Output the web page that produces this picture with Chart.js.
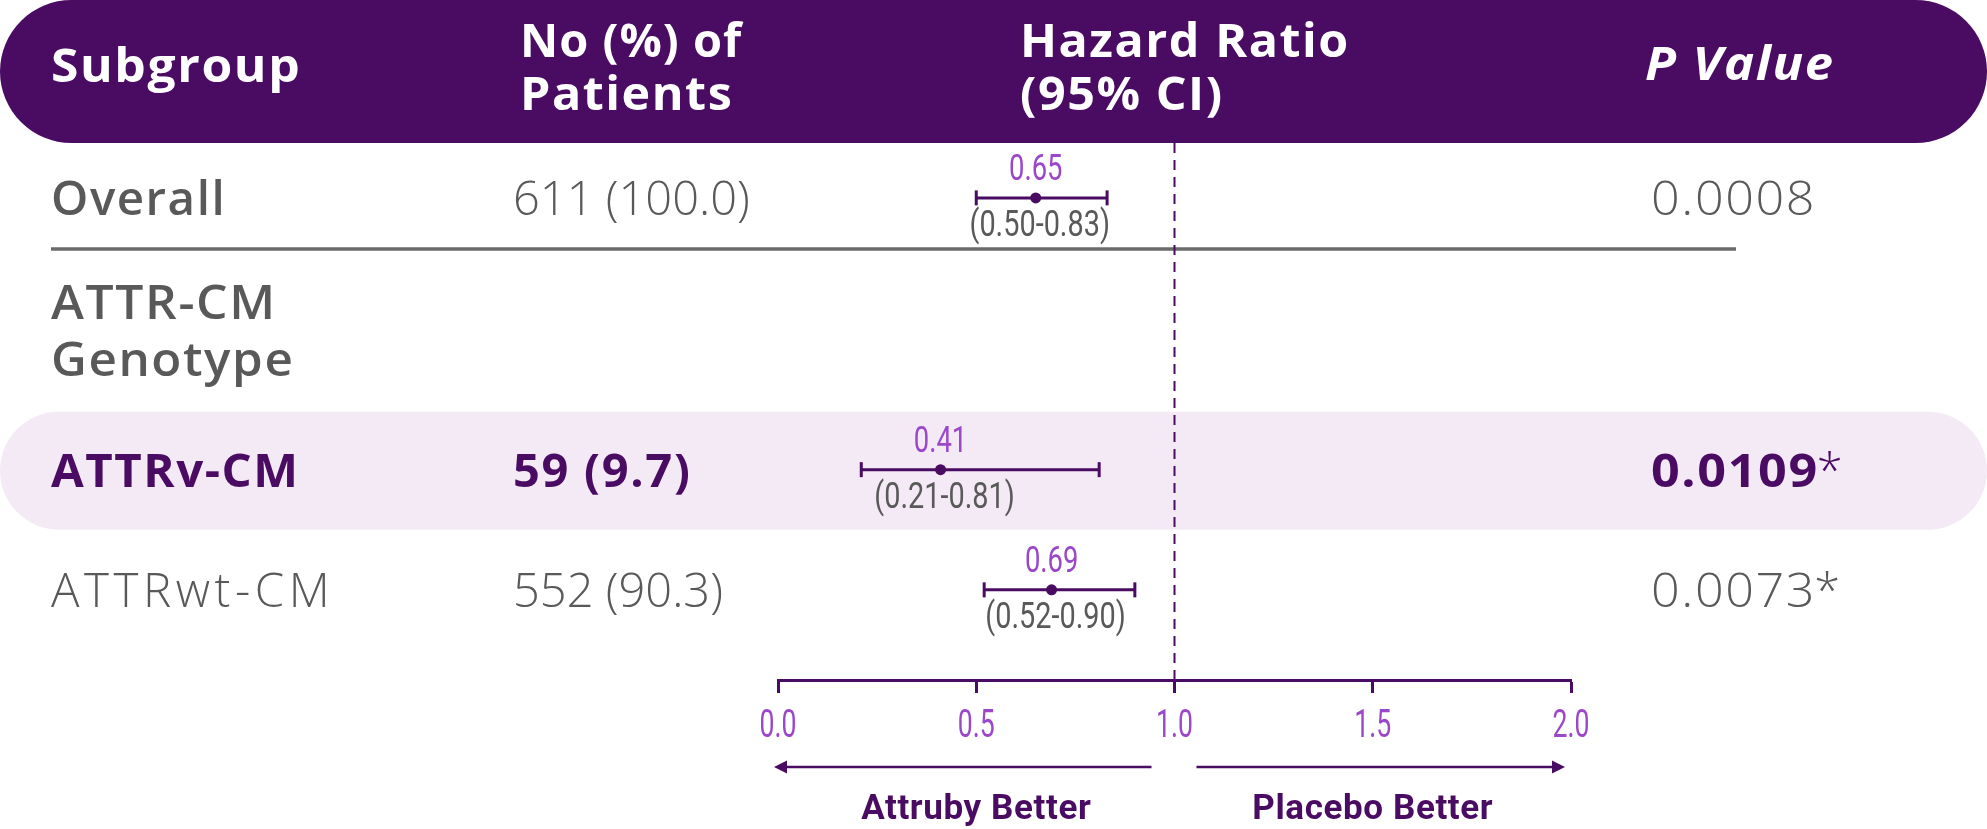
<!DOCTYPE html>
<html>
<head>
<meta charset="utf-8">
<title>ATTR-CM subgroups - hazard ratio forest plot</title>
<script src="https://cdn.jsdelivr.net/npm/chart.js@4.4.1/dist/chart.umd.min.js"></script>
<style>
  html, body { margin: 0; padding: 0; background: #fff; }
  #wrap { width: 1987px; height: 829px; }
</style>
</head>
<body>
<div id="wrap"><canvas id="forest"></canvas></div>
<script>
// values
const subgroups = ['Overall', 'ATTRv-CM', 'ATTRwt-CM'];
const patients = ['611 (100.0)', '59 (9.7)', '552 (90.3)'];
const hazardRatio = [0.65, 0.41, 0.69];
const ciLow = [0.50, 0.21, 0.52];
const ciHigh = [0.83, 0.81, 0.90];
const pValues = ['0.0008', '0.0109', '0.0073'];
const pFlags = ['', '*', '*'];
const groupTitle = ['ATTR-CM', 'Genotype'];
const xTicks = [0, 0.5, 1, 1.5, 2];
const xTickLabels = ['0.0', '0.5', '1.0', '1.5', '2.0'];
const sideLabels = ['Attruby Better', 'Placebo Better'];

// layout: row slot on the hidden y scale, and how each row is styled
const rowSlot = [0, 2.08, 3];
const groupSlot = 1;
const rowKind = ['summary', 'highlight', 'plain'];

const purple = '#4a0b62';
const violet = '#9a48c9';
const grey = '#595959';
const bandColor = '#f4eaf6';
const TABLE = '"Open Sans", "Noto Sans", sans-serif';
const NARROW = 'Roboto, "Noto Sans", sans-serif';

function txt(ctx, s, x, y, font, color, opt) {
  opt = opt || {};
  ctx.save();
  ctx.font = font;
  ctx.fillStyle = color;
  ctx.textAlign = opt.align || 'left';
  ctx.textBaseline = 'alphabetic';
  ctx.letterSpacing = opt.ls || '0px';
  ctx.translate(x, y);
  if (opt.sx) ctx.scale(opt.sx, 1);
  ctx.fillText(s, 0, 0);
  const w = ctx.measureText(s).width * (opt.sx || 1);
  ctx.restore();
  return w;
}

function arrow(ctx, x0, x1, y) {
  // shaft from x0 to x1, head at x1
  const dir = Math.sign(x1 - x0);
  ctx.save();
  ctx.strokeStyle = purple;
  ctx.fillStyle = purple;
  ctx.lineWidth = 2.5;
  ctx.beginPath();
  ctx.moveTo(x0, y);
  ctx.lineTo(x1 - dir * 8, y);
  ctx.stroke();
  ctx.beginPath();
  ctx.moveTo(x1, y);
  ctx.lineTo(x1 - dir * 13, y - 6.5);
  ctx.lineTo(x1 - dir * 13, y + 6.5);
  ctx.closePath();
  ctx.fill();
  ctx.restore();
}

const tablePlugin = {
  id: 'forestTable',
  beforeDraw(chart) {
    const ctx = chart.ctx;
    const W = chart.width;
    const ys = chart.scales.y;
    ctx.save();
    ctx.fillStyle = '#fff';
    ctx.fillRect(0, 0, W, chart.height);
    // header band
    ctx.fillStyle = purple;
    ctx.beginPath();
    ctx.roundRect(0, 0, W, chart.chartArea.top, chart.chartArea.top / 2);
    ctx.fill();
    // highlighted row band
    rowKind.forEach((k, i) => {
      if (k !== 'highlight') return;
      const y = ys.getPixelForValue(rowSlot[i]);
      ctx.fillStyle = bandColor;
      ctx.beginPath();
      ctx.roundRect(0, y - 58, W, 118, 59);
      ctx.fill();
    });
    // rule under the overall row
    const yo = ys.getPixelForValue(rowSlot[0]) + 51;
    ctx.strokeStyle = '#6b6b6b';
    ctx.lineWidth = 3.5;
    ctx.beginPath();
    ctx.moveTo(51, yo);
    ctx.lineTo(1736, yo);
    ctx.stroke();
    ctx.restore();
  },
  beforeDatasetsDraw(chart) {
    const ctx = chart.ctx;
    const x = chart.scales.x.getPixelForValue(1);
    ctx.save();
    ctx.strokeStyle = purple;
    ctx.lineWidth = 2;
    ctx.setLineDash([10, 7]);
    ctx.beginPath();
    ctx.moveTo(x, chart.chartArea.top);
    ctx.lineTo(x, chart.chartArea.bottom);
    ctx.stroke();
    ctx.restore();
  },
  afterDraw(chart) {
    const ctx = chart.ctx;
    const xs = chart.scales.x;
    const ys = chart.scales.y;

    // header
    const hf = '700 47px ' + TABLE;
    const ho = {ls: '1.5px', sx: 1.03};
    txt(ctx, 'Subgroup', 51, 82, hf, '#fff', {ls: '1.5px', sx: 1.06});
    txt(ctx, 'No (%) of', 520, 57, hf, '#fff', {ls: '1px', sx: 1.0});
    txt(ctx, 'Patients', 520, 110, hf, '#fff', ho);
    txt(ctx, 'Hazard Ratio', 1020, 57, hf, '#fff', ho);
    txt(ctx, '(95% CI)', 1020, 110, hf, '#fff', ho);
    txt(ctx, 'P Value', 1645, 80, 'italic 700 47px ' + TABLE, '#fff', {ls: '1.5px', sx: 1.08});

    // group title
    const yg = ys.getPixelForValue(groupSlot);
    txt(ctx, groupTitle[0], 51, yg - 10, '600 47px ' + TABLE, grey, {ls: '1.5px', sx: 1.06});
    txt(ctx, groupTitle[1], 51, yg + 47, '600 47px ' + TABLE, grey, {ls: '1.5px', sx: 1.05});

    // subgroup rows
    subgroups.forEach((name, i) => {
      const y = ys.getPixelForValue(rowSlot[i]);
      const kind = rowKind[i];
      const base = y + 17;
      let labFont, numFont, col, labLs;
      if (kind === 'summary') { labFont = '600'; numFont = '300'; col = grey; labLs = '1.5px'; }
      else if (kind === 'highlight') { labFont = '700'; numFont = '700'; col = purple; labLs = '1.5px'; }
      else { labFont = '300'; numFont = '300'; col = grey; labLs = '4.5px'; }
      txt(ctx, name, 51, base, labFont + ' 47px ' + TABLE, col, {ls: labLs, sx: 1.01});
      txt(ctx, patients[i], 513, base, numFont + ' 47px ' + TABLE, col, {ls: numFont === '700' ? '1.7px' : '0px'});
      const w = txt(ctx, pValues[i], 1651, base, numFont + ' 47px ' + TABLE, col, {ls: '1.5px', sx: 1.07});
      if (pFlags[i]) txt(ctx, pFlags[i], 1649 + w, base, '300 47px ' + TABLE, col);

      // hazard ratio and CI labels
      const xp = xs.getPixelForValue(hazardRatio[i]);
      txt(ctx, hazardRatio[i].toFixed(2), xp, y - 18, '400 37px ' + NARROW, violet, {align: 'center', sx: 0.74});
      txt(ctx, '(' + ciLow[i].toFixed(2) + '-' + ciHigh[i].toFixed(2) + ')', xp + 4, y + 38,
        '400 37px ' + NARROW, grey, {align: 'center', sx: 0.78});
    });

    // axis tick labels from the scale ticks
    xs.ticks.forEach((t, i) => {
      txt(ctx, xTickLabels[i], xs.getPixelForValue(t.value), xs.top + 57, '400 38px ' + NARROW, violet,
        {align: 'center', sx: 0.70});
    });

    // direction arrows and captions
    const p0 = xs.getPixelForValue(0), p1 = xs.getPixelForValue(1), p2 = xs.getPixelForValue(2);
    const ya = xs.top + 87;
    arrow(ctx, p1 - 23, p0 - 4, ya);
    arrow(ctx, p1 + 22, p2 - 6, ya);
    txt(ctx, sideLabels[0], (p0 + p1) / 2, xs.top + 139, '700 35px ' + NARROW, purple, {align: 'center', ls: '0.6px'});
    txt(ctx, sideLabels[1], (p1 + p2) / 2, xs.top + 139, '700 35px ' + NARROW, purple, {align: 'center', ls: '0.6px'});
  }
};

const datasets = subgroups.map((name, i) => ({
  label: name + ' 95% CI',
  data: [{x: ciLow[i], y: rowSlot[i]}, {x: ciHigh[i], y: rowSlot[i]}],
  showLine: true,
  borderColor: purple,
  borderWidth: 3,
  pointStyle: 'line',
  rotation: 90,
  pointRadius: 7.5,
  pointBorderWidth: 3,
  pointBorderColor: purple,
  pointBackgroundColor: purple
}));
datasets.push({
  label: 'Hazard ratio',
  data: hazardRatio.map((v, i) => ({x: v, y: rowSlot[i]})),
  pointStyle: 'circle',
  pointRadius: 5.5,
  pointBackgroundColor: purple,
  pointBorderColor: purple,
  pointBorderWidth: 0
});

new Chart(document.getElementById('forest'), {
  type: 'scatter',
  data: { datasets },
  options: {
    responsive: true,
    maintainAspectRatio: false,
    animation: false,
    events: [],
    layout: { padding: { left: 778, right: 416, top: 143, bottom: 0 } },
    plugins: { legend: { display: false }, tooltip: { enabled: false } },
    scales: {
      x: {
        type: 'linear',
        min: 0,
        max: 2,
        afterBuildTicks: s => { s.ticks = xTicks.map(v => ({ value: v })); },
        afterFit: s => { s.height = 149; },
        border: { color: purple, width: 3 },
        grid: { drawOnChartArea: false, drawTicks: true, tickLength: 13, tickColor: purple, tickWidth: 3 },
        ticks: { display: false }
      },
      y: { type: 'linear', display: false, reverse: true, min: -0.42, max: 3.69 }
    }
  },
  plugins: [tablePlugin]
});
</script>
</body>
</html>
